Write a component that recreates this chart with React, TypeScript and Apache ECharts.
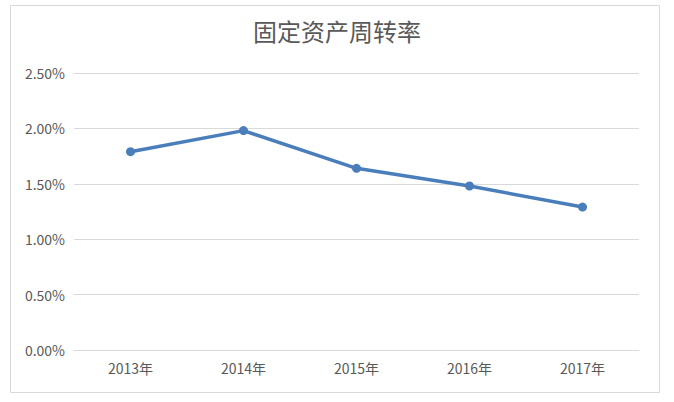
import React, { useEffect, useRef } from "react";
import * as echarts from "echarts";

const categories = ["2013年", "2014年", "2015年", "2016年", "2017年"];
const turnover = [1.79, 1.98, 1.64, 1.48, 1.29];
const titleText = "固定资产周转率";

export default function App() {
  const ref = useRef<HTMLDivElement>(null);
  useEffect(() => {
    if (!ref.current) return;
    const chart = echarts.init(ref.current, undefined, { renderer: "svg" });
    const font = "'Noto Sans CJK SC', 'Noto Sans', sans-serif";
    chart.setOption({
      animation: false,
      backgroundColor: "#ffffff",
      title: {
        text: titleText,
        left: "center",
        top: 18,
        padding: 0,
        textStyle: { fontSize: 24, fontWeight: "normal", color: "#595959", fontFamily: font },
      },
      graphic: [
        {
          type: "rect",
          shape: { x: 10.5, y: 5.5, width: 649, height: 387 },
          style: { fill: "none", stroke: "#d9d9d9", lineWidth: 1 },
          silent: true,
        },
      ],
      grid: { left: 74, right: 35, top: 73, bottom: 52, containLabel: false },
      xAxis: {
        type: "category",
        data: categories,
        boundaryGap: true,
        axisLine: { show: true, lineStyle: { color: "#d9d9d9", width: 1 } },
        axisTick: { show: false },
        axisLabel: { color: "#595959", fontSize: 14, fontFamily: font, margin: 11 },
      },
      yAxis: {
        type: "value",
        min: 0,
        max: 2.5,
        interval: 0.5,
        axisLine: { show: false },
        axisTick: { show: false },
        splitLine: { lineStyle: { color: "#d9d9d9", width: 1 } },
        axisLabel: {
          color: "#595959",
          fontSize: 14,
          fontFamily: font,
          margin: 9,
          formatter: (v: number) => v.toFixed(2) + "%",
        },
      },
      series: [
        {
          type: "line",
          data: turnover,
          symbol: "circle",
          symbolSize: 9,
          lineStyle: { color: "#4a7ebb", width: 3.5 },
          itemStyle: { color: "#4a7ebb" },
        },
      ],
    });
    return () => chart.dispose();
  }, []);
  return (
    <div
      ref={ref}
      style={{ position: "fixed", left: 0, top: 0, width: 674, height: 402, background: "#fff" }}
    />
  );
}
